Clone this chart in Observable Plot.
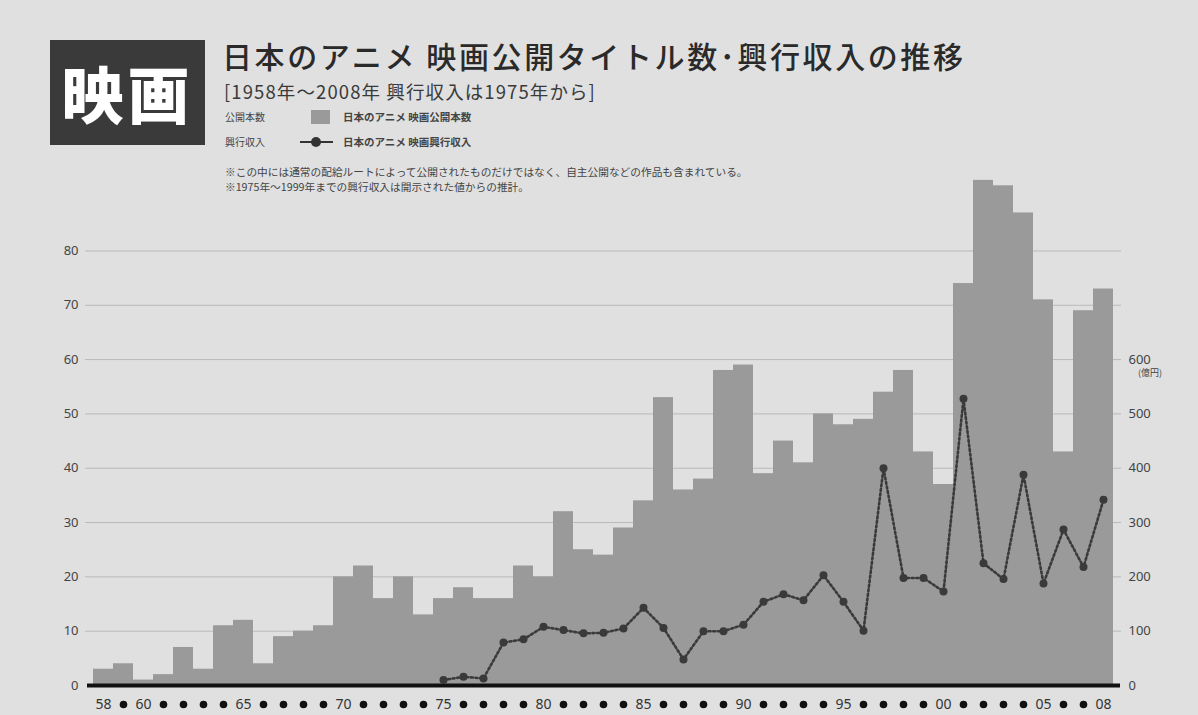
<!DOCTYPE html>
<html><head><meta charset="utf-8">
<script src="https://cdn.jsdelivr.net/npm/d3@7"></script>
<script src="https://cdn.jsdelivr.net/npm/@observablehq/plot@0.6"></script>
<style>
html,body{margin:0;padding:0;background:#e0e0e0;width:1198px;height:715px;overflow:hidden;font-family:"Noto Sans CJK JP","Noto Sans",sans-serif;color:#2b2b2b}
#wrap{position:relative;width:1198px;height:715px}
#chart{position:absolute;left:0;top:0}
.abs{position:absolute;white-space:nowrap;line-height:1}
</style></head><body>
<div id="wrap">
<div id="chart"></div>
<div class="abs" style="left:50px;top:40px;width:155px;height:105px;background:#3a3a3a;color:#fff;font-size:62px;font-weight:900;line-height:105px;text-align:center;letter-spacing:4px;">映画</div>
<div class="abs" style="left:222px;top:40px;font-size:30px;font-weight:500;letter-spacing:2.6px;color:#2a2a2a;">日本のアニメ 映画公開タイトル数･興行収入の推移</div>
<div class="abs" style="left:224px;top:82px;font-size:18.5px;font-weight:400;letter-spacing:1.1px;color:#3a3a3a;">[1958年～2008年 興行収入は1975年から]</div>
<div class="abs" style="left:225px;top:112px;font-size:10px;color:#444;">公開本数</div>
<div class="abs" style="left:311px;top:110px;width:19px;height:14px;background:#9a9a9a;"></div>
<div class="abs" style="left:343px;top:112px;font-size:10.5px;font-weight:700;color:#444;">日本のアニメ 映画公開本数</div>
<div class="abs" style="left:225px;top:137px;font-size:10px;color:#444;">興行収入</div>
<div class="abs" style="left:300px;top:141px;width:33px;height:2px;background:#333;"></div>
<div class="abs" style="left:311px;top:137px;width:10px;height:10px;border-radius:50%;background:#333;"></div>
<div class="abs" style="left:343px;top:137px;font-size:10.5px;font-weight:700;color:#444;">日本のアニメ 映画興行収入</div>
<div class="abs" style="left:225px;top:167px;font-size:10.7px;color:#444;">※この中には通常の配給ルートによって公開されたものだけではなく、自主公開などの作品も含まれている。</div>
<div class="abs" style="left:225px;top:182px;font-size:10.7px;color:#444;">※1975年～1999年までの興行収入は開示された値からの推計。</div>
<div class="abs" style="left:1138px;top:368px;font-size:9px;color:#444;">(億円)</div>
</div>
<script>
// Data
const years = [1958,1959,1960,1961,1962,1963,1964,1965,1966,1967,1968,1969,
  1970,1971,1972,1973,1974,1975,1976,1977,1978,1979,
  1980,1981,1982,1983,1984,1985,1986,1987,1988,1989,
  1990,1991,1992,1993,1994,1995,1996,1997,1998,1999,
  2000,2001,2002,2003,2004,2005,2006,2007,2008];
const titles = [3,4,1,2,7,3,11,12,4,9,10,11,
  20,22,16,20,13,16,18,16,16,22,
  20,32,25,24,29,34,53,36,38,58,
  59,39,45,41,50,48,49,54,58,43,
  37,74,93,92,87,71,43,69,73];
const revenueYears = [1975,1976,1977,1978,1979,
  1980,1981,1982,1983,1984,1985,1986,1987,1988,1989,
  1990,1991,1992,1993,1994,1995,1996,1997,1998,1999,
  2000,2001,2002,2003,2004,2005,2006,2007,2008];
const revenue = [10,16,13,79,85,
  108,102,96,97,105,143,106,48,100,100,
  112,154,168,157,203,154,101,400,198,198,
  173,528,225,196,388,188,287,218,342];
const leftTicks = [0,10,20,30,40,50,60,70,80];
const rightTicks = [0,100,200,300,400,500,600];
const labelYears = [1958,1960,1965,1970,1975,1980,1985,1990,1995,2000,2005,2008];
const labelTexts = ["58","60","65","70","75","80","85","90","95","00","05","08"];

const barData = years.map((y,i)=>({year:y, titles:titles[i]}));
const revData = revenueYears.map((y,i)=>({year:y, rev:revenue[i]}));
const labelData = labelYears.map((y,i)=>({year:y, label:labelTexts[i]}));
const dotYears = years.filter(y=>!labelYears.includes(y));

const chart = Plot.plot({
  width:1198, height:715,
  marginLeft:93, marginRight:85, marginTop:169, marginBottom:30,
  x:{type:"linear", domain:[1957.5,2008.5], axis:null},
  y:{domain:[0,95], axis:null},
  style:{background:"transparent", fontFamily:"'Liberation Sans Narrow','Noto Sans',sans-serif"},
  marks:[
    Plot.ruleY(leftTicks.filter(t=>t>0), {stroke:"#b9b9b9", strokeWidth:1, insetLeft:-8, insetRight:-8}),
    Plot.rectY(barData, {x1:d=>d.year-0.5, x2:d=>d.year+0.5, y:"titles", fill:"#9a9a9a"}),
    Plot.ruleY([0], {stroke:"#111", strokeWidth:4, insetLeft:-6, insetRight:-7}),
    Plot.axisY({ticks:leftTicks, tickSize:0, tickPadding:15, fontSize:13, anchor:"left", label:null, color:"#444"}),
    Plot.axisY({ticks:rightTicks.map(v=>v/10), tickFormat:d=>String(Math.round(d*10)), tickSize:0, tickPadding:15, fontSize:13, anchor:"right", label:null, color:"#444"}),
    Plot.line(revData, {x:"year", y:d=>d.rev/10, stroke:"#3a3a3a", strokeWidth:2.6, strokeDasharray:"2,2.6"}),
    Plot.dot(revData, {x:"year", y:d=>d.rev/10, r:4, fill:"#3a3a3a"}),
    Plot.text(labelData, {x:"year", y:0, dy:19, text:"label", fontSize:14, fill:"#333"}),
    Plot.dot(dotYears, {x:d=>d, y:0, dy:19, r:3.8, fill:"#111"})
  ]
});
document.getElementById("chart").appendChild(chart);
</script>
</body></html>
